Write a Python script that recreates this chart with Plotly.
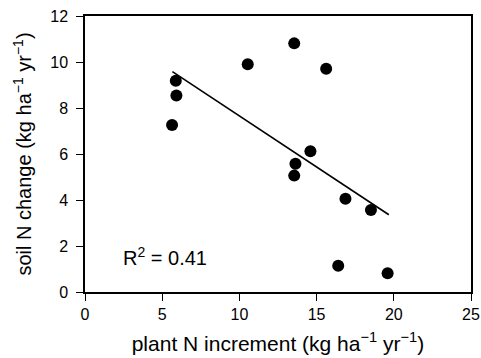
import plotly.graph_objects as go

plant_n = [5.88, 5.92, 5.64, 10.54, 13.55, 15.62, 14.60, 13.63, 13.55, 16.87, 18.52, 16.40, 19.60]
soil_n = [9.18, 8.54, 7.26, 9.90, 10.81, 9.71, 6.12, 5.58, 5.06, 4.05, 3.57, 1.14, 0.82]
fit_x = [5.66, 19.68]
fit_y = [9.58, 3.36]
x_ticks = [0, 5, 10, 15, 20, 25]
y_ticks = [0, 2, 4, 6, 8, 10, 12]
r2_text = "R<sup>2</sup> = 0.41"

font = "Liberation Sans, Arial, sans-serif"

fig = go.Figure()
fig.add_trace(go.Scatter(x=fit_x, y=fit_y, mode="lines",
                         line=dict(color="black", width=1.6), showlegend=False))
fig.add_trace(go.Scatter(x=plant_n, y=soil_n, mode="markers",
                         marker=dict(color="black", size=12), showlegend=False))

fig.add_annotation(x=2.3, y=1.55, text=r2_text, showarrow=False, xanchor="left",
                   yanchor="middle", font=dict(family=font, size=20, color="black"))

axis_common = dict(showline=True, linecolor="black", linewidth=1.5, mirror=True,
                   ticks="outside", ticklen=7, tickwidth=1.3, tickcolor="black",
                   showgrid=False, zeroline=False, automargin=False,
                   tickfont=dict(family=font, size=16, color="black"))

fig.update_xaxes(range=[0, 25], tickvals=x_ticks,
                 title=dict(text="plant N increment (kg ha<sup>−1</sup> yr<sup>−1</sup>)",
                            font=dict(family=font, size=21, color="black"), standoff=14),
                 **axis_common)
fig.update_yaxes(range=[0, 12], tickvals=y_ticks, ticklabelstandoff=5,
                 title=dict(text="soil N change (kg ha<sup>−1</sup> yr<sup>−1</sup>)",
                            font=dict(family=font, size=20, color="black"), standoff=13),
                 **axis_common)

fig.update_layout(width=481, height=358, margin=dict(l=85, r=10, t=16, b=66),
                  plot_bgcolor="white", paper_bgcolor="white",
                  font=dict(family=font, size=16, color="black"))

fig.write_html("out.html", config={"displayModeBar": False},
               post_script="document.body.style.margin='0';document.body.style.overflow='hidden';")
